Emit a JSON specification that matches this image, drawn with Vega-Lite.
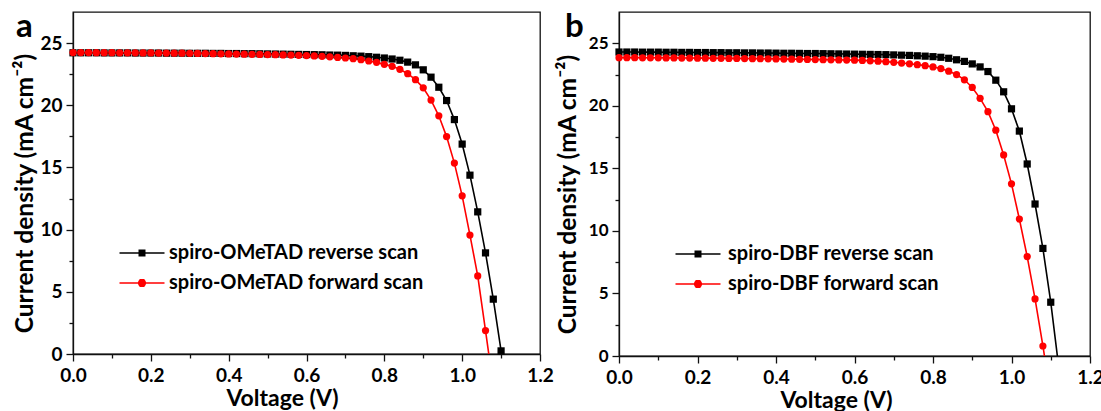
{
  "$schema": "https://vega.github.io/schema/vega-lite/v6.json",
  "padding": {"left": 12, "top": 10, "right": 0, "bottom": 0},
  "background": "#ffffff",
  "spacing": 0,
  "config": {
    "font": "Lato",
    "view": {"stroke": "#111111", "strokeWidth": 1.3},
    "axis": {
      "grid": false, "domainColor": "#111111", "domainWidth": 1.3, "tickColor": "#111111", "tickWidth": 1.3,
      "labelColor": "#000000", "labelFont": "Lato", "labelFontWeight": "bold", "labelFontSize": 19,
      "titleColor": "#000000", "titleFont": "Lato", "titleFontWeight": "bold", "titleFontSize": 23,
      "labelOverlap": false, "labelFlush": false
    },
    "legend": {
      "orient": "none", "title": null, "padding": 0, "labelFont": "Lato", "labelFontWeight": "bold",
      "labelFontSize": 20, "labelColor": "#000000", "labelLimit": 0, "symbolSize": 100, "symbolStrokeWidth": 1.6,
      "labelOffset": 17, "rowPadding": 10
    },
    "title": {"font": "Lato", "fontWeight": "bold", "fontSize": 33, "color": "#000000"}
  },
  "datasets": {
    "a": [
      {"s":"reverse","V":0.00,"J":24.22},{"s":"reverse","V":0.02,"J":24.22},{"s":"reverse","V":0.04,"J":24.22},{"s":"reverse","V":0.06,"J":24.22},{"s":"reverse","V":0.08,"J":24.21},{"s":"reverse","V":0.10,"J":24.21},{"s":"reverse","V":0.12,"J":24.21},{"s":"reverse","V":0.14,"J":24.21},{"s":"reverse","V":0.16,"J":24.2},{"s":"reverse","V":0.18,"J":24.2},{"s":"reverse","V":0.20,"J":24.2},{"s":"reverse","V":0.22,"J":24.2},{"s":"reverse","V":0.24,"J":24.19},{"s":"reverse","V":0.26,"J":24.19},{"s":"reverse","V":0.28,"J":24.19},{"s":"reverse","V":0.30,"J":24.18},{"s":"reverse","V":0.32,"J":24.18},{"s":"reverse","V":0.34,"J":24.18},{"s":"reverse","V":0.36,"J":24.17},{"s":"reverse","V":0.38,"J":24.17},{"s":"reverse","V":0.40,"J":24.16},{"s":"reverse","V":0.42,"J":24.16},{"s":"reverse","V":0.44,"J":24.15},{"s":"reverse","V":0.46,"J":24.15},{"s":"reverse","V":0.48,"J":24.14},{"s":"reverse","V":0.50,"J":24.13},{"s":"reverse","V":0.52,"J":24.12},{"s":"reverse","V":0.54,"J":24.11},{"s":"reverse","V":0.56,"J":24.1},{"s":"reverse","V":0.58,"J":24.09},{"s":"reverse","V":0.60,"J":24.08},{"s":"reverse","V":0.62,"J":24.07},{"s":"reverse","V":0.64,"J":24.06},{"s":"reverse","V":0.66,"J":24.04},{"s":"reverse","V":0.68,"J":24.03},{"s":"reverse","V":0.70,"J":24.01},{"s":"reverse","V":0.72,"J":23.98},{"s":"reverse","V":0.74,"J":23.95},{"s":"reverse","V":0.76,"J":23.91},{"s":"reverse","V":0.78,"J":23.86},{"s":"reverse","V":0.80,"J":23.8},{"s":"reverse","V":0.82,"J":23.72},{"s":"reverse","V":0.84,"J":23.62},{"s":"reverse","V":0.86,"J":23.47},{"s":"reverse","V":0.88,"J":23.25},{"s":"reverse","V":0.90,"J":22.85},{"s":"reverse","V":0.92,"J":22.26},{"s":"reverse","V":0.94,"J":21.45},{"s":"reverse","V":0.96,"J":20.38},{"s":"reverse","V":0.98,"J":18.85},{"s":"reverse","V":1.00,"J":16.88},{"s":"reverse","V":1.02,"J":14.38},{"s":"reverse","V":1.04,"J":11.43},{"s":"reverse","V":1.06,"J":8.13},{"s":"reverse","V":1.08,"J":4.41},{"s":"reverse","V":1.10,"J":0.25},
      {"s":"forward","V":0.00,"J":24.24},{"s":"forward","V":0.02,"J":24.24},{"s":"forward","V":0.04,"J":24.24},{"s":"forward","V":0.06,"J":24.23},{"s":"forward","V":0.08,"J":24.23},{"s":"forward","V":0.10,"J":24.23},{"s":"forward","V":0.12,"J":24.22},{"s":"forward","V":0.14,"J":24.22},{"s":"forward","V":0.16,"J":24.22},{"s":"forward","V":0.18,"J":24.21},{"s":"forward","V":0.20,"J":24.21},{"s":"forward","V":0.22,"J":24.2},{"s":"forward","V":0.24,"J":24.2},{"s":"forward","V":0.26,"J":24.19},{"s":"forward","V":0.28,"J":24.19},{"s":"forward","V":0.30,"J":24.18},{"s":"forward","V":0.32,"J":24.17},{"s":"forward","V":0.34,"J":24.16},{"s":"forward","V":0.36,"J":24.15},{"s":"forward","V":0.38,"J":24.14},{"s":"forward","V":0.40,"J":24.13},{"s":"forward","V":0.42,"J":24.12},{"s":"forward","V":0.44,"J":24.11},{"s":"forward","V":0.46,"J":24.1},{"s":"forward","V":0.48,"J":24.09},{"s":"forward","V":0.50,"J":24.08},{"s":"forward","V":0.52,"J":24.07},{"s":"forward","V":0.54,"J":24.05},{"s":"forward","V":0.56,"J":24.04},{"s":"forward","V":0.58,"J":24.02},{"s":"forward","V":0.60,"J":24.0},{"s":"forward","V":0.62,"J":23.97},{"s":"forward","V":0.64,"J":23.94},{"s":"forward","V":0.66,"J":23.9},{"s":"forward","V":0.68,"J":23.85},{"s":"forward","V":0.70,"J":23.8},{"s":"forward","V":0.72,"J":23.75},{"s":"forward","V":0.74,"J":23.67},{"s":"forward","V":0.76,"J":23.56},{"s":"forward","V":0.78,"J":23.45},{"s":"forward","V":0.80,"J":23.29},{"s":"forward","V":0.82,"J":23.13},{"s":"forward","V":0.84,"J":22.89},{"s":"forward","V":0.86,"J":22.54},{"s":"forward","V":0.88,"J":22.06},{"s":"forward","V":0.90,"J":21.4},{"s":"forward","V":0.92,"J":20.42},{"s":"forward","V":0.94,"J":19.15},{"s":"forward","V":0.96,"J":17.48},{"s":"forward","V":0.98,"J":15.35},{"s":"forward","V":1.00,"J":12.72},{"s":"forward","V":1.02,"J":9.56},{"s":"forward","V":1.04,"J":6.28},{"s":"forward","V":1.06,"J":1.88},{"s":"forward","V":1.08,"J":-2.6}
    ],
    "b": [
      {"s":"reverse","V":0.00,"J":24.3},{"s":"reverse","V":0.02,"J":24.3},{"s":"reverse","V":0.04,"J":24.3},{"s":"reverse","V":0.06,"J":24.29},{"s":"reverse","V":0.08,"J":24.29},{"s":"reverse","V":0.10,"J":24.29},{"s":"reverse","V":0.12,"J":24.28},{"s":"reverse","V":0.14,"J":24.28},{"s":"reverse","V":0.16,"J":24.27},{"s":"reverse","V":0.18,"J":24.27},{"s":"reverse","V":0.20,"J":24.26},{"s":"reverse","V":0.22,"J":24.26},{"s":"reverse","V":0.24,"J":24.25},{"s":"reverse","V":0.26,"J":24.25},{"s":"reverse","V":0.28,"J":24.24},{"s":"reverse","V":0.30,"J":24.24},{"s":"reverse","V":0.32,"J":24.23},{"s":"reverse","V":0.34,"J":24.23},{"s":"reverse","V":0.36,"J":24.22},{"s":"reverse","V":0.38,"J":24.22},{"s":"reverse","V":0.40,"J":24.21},{"s":"reverse","V":0.42,"J":24.2},{"s":"reverse","V":0.44,"J":24.2},{"s":"reverse","V":0.46,"J":24.19},{"s":"reverse","V":0.48,"J":24.18},{"s":"reverse","V":0.50,"J":24.18},{"s":"reverse","V":0.52,"J":24.17},{"s":"reverse","V":0.54,"J":24.16},{"s":"reverse","V":0.56,"J":24.15},{"s":"reverse","V":0.58,"J":24.14},{"s":"reverse","V":0.60,"J":24.13},{"s":"reverse","V":0.62,"J":24.12},{"s":"reverse","V":0.64,"J":24.11},{"s":"reverse","V":0.66,"J":24.1},{"s":"reverse","V":0.68,"J":24.09},{"s":"reverse","V":0.70,"J":24.07},{"s":"reverse","V":0.72,"J":24.05},{"s":"reverse","V":0.74,"J":24.03},{"s":"reverse","V":0.76,"J":24.0},{"s":"reverse","V":0.78,"J":23.97},{"s":"reverse","V":0.80,"J":23.93},{"s":"reverse","V":0.82,"J":23.88},{"s":"reverse","V":0.84,"J":23.8},{"s":"reverse","V":0.86,"J":23.68},{"s":"reverse","V":0.88,"J":23.55},{"s":"reverse","V":0.90,"J":23.35},{"s":"reverse","V":0.92,"J":23.11},{"s":"reverse","V":0.94,"J":22.74},{"s":"reverse","V":0.96,"J":22.05},{"s":"reverse","V":0.98,"J":21.12},{"s":"reverse","V":1.00,"J":19.76},{"s":"reverse","V":1.02,"J":17.98},{"s":"reverse","V":1.04,"J":15.35},{"s":"reverse","V":1.06,"J":12.15},{"s":"reverse","V":1.08,"J":8.6},{"s":"reverse","V":1.10,"J":4.3},{"s":"reverse","V":1.12,"J":-0.8},
      {"s":"forward","V":0.00,"J":23.85},{"s":"forward","V":0.02,"J":23.85},{"s":"forward","V":0.04,"J":23.85},{"s":"forward","V":0.06,"J":23.84},{"s":"forward","V":0.08,"J":23.84},{"s":"forward","V":0.10,"J":23.84},{"s":"forward","V":0.12,"J":23.83},{"s":"forward","V":0.14,"J":23.83},{"s":"forward","V":0.16,"J":23.82},{"s":"forward","V":0.18,"J":23.82},{"s":"forward","V":0.20,"J":23.81},{"s":"forward","V":0.22,"J":23.81},{"s":"forward","V":0.24,"J":23.8},{"s":"forward","V":0.26,"J":23.8},{"s":"forward","V":0.28,"J":23.79},{"s":"forward","V":0.30,"J":23.79},{"s":"forward","V":0.32,"J":23.78},{"s":"forward","V":0.34,"J":23.77},{"s":"forward","V":0.36,"J":23.77},{"s":"forward","V":0.38,"J":23.76},{"s":"forward","V":0.40,"J":23.75},{"s":"forward","V":0.42,"J":23.74},{"s":"forward","V":0.44,"J":23.73},{"s":"forward","V":0.46,"J":23.72},{"s":"forward","V":0.48,"J":23.71},{"s":"forward","V":0.50,"J":23.7},{"s":"forward","V":0.52,"J":23.69},{"s":"forward","V":0.54,"J":23.68},{"s":"forward","V":0.56,"J":23.67},{"s":"forward","V":0.58,"J":23.66},{"s":"forward","V":0.60,"J":23.65},{"s":"forward","V":0.62,"J":23.63},{"s":"forward","V":0.64,"J":23.6},{"s":"forward","V":0.66,"J":23.57},{"s":"forward","V":0.68,"J":23.53},{"s":"forward","V":0.70,"J":23.48},{"s":"forward","V":0.72,"J":23.42},{"s":"forward","V":0.74,"J":23.36},{"s":"forward","V":0.76,"J":23.29},{"s":"forward","V":0.78,"J":23.21},{"s":"forward","V":0.80,"J":23.11},{"s":"forward","V":0.82,"J":22.98},{"s":"forward","V":0.84,"J":22.77},{"s":"forward","V":0.86,"J":22.5},{"s":"forward","V":0.88,"J":22.08},{"s":"forward","V":0.90,"J":21.47},{"s":"forward","V":0.92,"J":20.6},{"s":"forward","V":0.94,"J":19.53},{"s":"forward","V":0.96,"J":18.05},{"s":"forward","V":0.98,"J":16.07},{"s":"forward","V":1.00,"J":13.76},{"s":"forward","V":1.02,"J":10.95},{"s":"forward","V":1.04,"J":7.95},{"s":"forward","V":1.06,"J":4.56},{"s":"forward","V":1.08,"J":0.8},{"s":"forward","V":1.10,"J":-3.2}
    ]
  },
  "resolve": {"scale": {"color": "independent", "shape": "independent"}, "legend": {"color": "independent", "shape": "independent"}},
  "hconcat": [
    {
      "width": 467, "height": 342,
      "title": {"text": "a", "orient": "top", "anchor": "start", "frame": "group", "offset": -32, "dx": -57},
      "data": {"name": "a"},
      "encoding": {
        "x": {"field": "V", "type": "quantitative", "title": "Voltage (V)",
          "scale": {"domain": [0, 1.2], "nice": false},
          "axis": {"values": [0,0.1,0.2,0.3,0.4,0.5,0.6,0.7,0.8,0.9,1.0,1.1,1.2],
            "labelExpr": "round(datum.value*10) % 2 === 0 ? format(datum.value, '.1f') : ''",
            "tickSize": {"condition": {"test": "round(datum.value*10) % 2 === 0", "value": 7}, "value": 4},
            "labelPadding": 5, "titlePadding": 2, "titleX": 209}},
        "y": {"field": "J", "type": "quantitative", "title": "Current density (mA cm⁻²)",
          "scale": {"domain": [0, 27.5], "nice": false},
          "axis": {"values": [0,2.5,5,7.5,10,12.5,15,17.5,20,22.5,25],
            "labelExpr": "datum.value % 5 === 0 ? datum.label : ''",
            "tickSize": {"condition": {"test": "datum.value % 5 === 0", "value": 7}, "value": 4},
            "labelPadding": 4, "titlePadding": 2, "titleFontSize": 24.5, "titleY": 181}}
      },
      "layer": [
        {
          "mark": {"type": "line", "clip": true, "strokeWidth": 1.6},
          "encoding": {
            "color": {"field": "s", "type": "nominal",
              "scale": {"domain": ["reverse", "forward"], "range": ["#000000", "#ff0000"]},
              "legend": {"legendX": 59, "legendY": 231, "labelExpr": "'spiro-OMeTAD ' + datum.label + ' scan'"}}
          }
        },
        {
          "transform": [{"filter": "false"}],
          "mark": {"type": "point", "filled": false, "opacity": 1},
          "encoding": {
            "color": {"field": "s", "type": "nominal",
              "legend": {"legendX": 59, "legendY": 231, "labelExpr": "'spiro-OMeTAD ' + datum.label + ' scan'"}},
            "shape": {"field": "s", "type": "nominal",
              "scale": {"domain": ["reverse", "forward"], "range": [
                "M-4.5,0H4.5M-0.7,-0.55H0.7M-0.7,-0.33H0.7M-0.7,-0.11H0.7M-0.7,0.11H0.7M-0.7,0.33H0.7M-0.7,0.55H0.7",
                "M-4.5,0H4.5M-0.79,-0.1H0.79M-0.79,0.1H0.79M-0.74,-0.3H0.74M-0.74,0.3H0.74M-0.62,-0.5H0.62M-0.62,0.5H0.62M-0.48,-0.64H0.48M-0.48,0.64H0.48"]},
              "legend": {"legendX": 59, "legendY": 231, "labelExpr": "'spiro-OMeTAD ' + datum.label + ' scan'"}}
          }
        },
        {
          "transform": [{"filter": "datum.s === 'reverse' && datum.J >= 0"}],
          "mark": {"type": "point", "filled": true, "opacity": 1, "size": 52, "shape": "square"},
          "encoding": {"color": {"field": "s", "type": "nominal", "legend": null}}
        },
        {
          "transform": [{"filter": "datum.s === 'forward' && datum.J >= 0"}],
          "mark": {"type": "point", "filled": true, "opacity": 1, "size": 52, "shape": "circle"},
          "encoding": {"color": {"field": "s", "type": "nominal", "legend": null}}
        }
      ]
    },
    {
      "width": 471, "height": 344,
      "title": {"text": "b", "orient": "top", "anchor": "start", "frame": "group", "offset": -32, "dx": -54},
      "data": {"name": "b"},
      "encoding": {
        "x": {"field": "V", "type": "quantitative", "title": "Voltage (V)",
          "scale": {"domain": [0, 1.2], "nice": false},
          "axis": {"values": [0,0.1,0.2,0.3,0.4,0.5,0.6,0.7,0.8,0.9,1.0,1.1,1.2],
            "labelExpr": "round(datum.value*10) % 2 === 0 ? format(datum.value, '.1f') : ''",
            "tickSize": {"condition": {"test": "round(datum.value*10) % 2 === 0", "value": 7}, "value": 4},
            "labelPadding": 5, "titlePadding": 2, "titleX": 217}},
        "y": {"field": "J", "type": "quantitative", "title": "Current density (mA cm⁻²)",
          "scale": {"domain": [0, 27.5], "nice": false},
          "axis": {"values": [0,2.5,5,7.5,10,12.5,15,17.5,20,22.5,25],
            "labelExpr": "datum.value % 5 === 0 ? datum.label : ''",
            "tickSize": {"condition": {"test": "datum.value % 5 === 0", "value": 7}, "value": 4},
            "labelFontSize": 17, "labelPadding": 4, "titlePadding": 8, "titleFontSize": 24.5, "titleY": 182}}
      },
      "layer": [
        {
          "mark": {"type": "line", "clip": true, "strokeWidth": 1.6},
          "encoding": {
            "color": {"field": "s", "type": "nominal",
              "scale": {"domain": ["reverse", "forward"], "range": ["#000000", "#ff0000"]},
              "legend": {"legendX": 69, "legendY": 232, "labelOffset": 20, "labelExpr": "'spiro-DBF ' + datum.label + ' scan'"}}
          }
        },
        {
          "transform": [{"filter": "false"}],
          "mark": {"type": "point", "filled": false, "opacity": 1},
          "encoding": {
            "color": {"field": "s", "type": "nominal",
              "legend": {"legendX": 69, "legendY": 232, "labelOffset": 20, "labelExpr": "'spiro-DBF ' + datum.label + ' scan'"}},
            "shape": {"field": "s", "type": "nominal",
              "scale": {"domain": ["reverse", "forward"], "range": [
                "M-4.5,0H4.5M-0.7,-0.55H0.7M-0.7,-0.33H0.7M-0.7,-0.11H0.7M-0.7,0.11H0.7M-0.7,0.33H0.7M-0.7,0.55H0.7",
                "M-4.5,0H4.5M-0.79,-0.1H0.79M-0.79,0.1H0.79M-0.74,-0.3H0.74M-0.74,0.3H0.74M-0.62,-0.5H0.62M-0.62,0.5H0.62M-0.48,-0.64H0.48M-0.48,0.64H0.48"]},
              "legend": {"legendX": 69, "legendY": 232, "labelOffset": 20, "labelExpr": "'spiro-DBF ' + datum.label + ' scan'"}}
          }
        },
        {
          "transform": [{"filter": "datum.s === 'reverse' && datum.J >= 0"}],
          "mark": {"type": "point", "filled": true, "opacity": 1, "size": 52, "shape": "square"},
          "encoding": {"color": {"field": "s", "type": "nominal", "legend": null}}
        },
        {
          "transform": [{"filter": "datum.s === 'forward' && datum.J >= 0"}],
          "mark": {"type": "point", "filled": true, "opacity": 1, "size": 52, "shape": "circle"},
          "encoding": {"color": {"field": "s", "type": "nominal", "legend": null}}
        }
      ]
    }
  ]
}
